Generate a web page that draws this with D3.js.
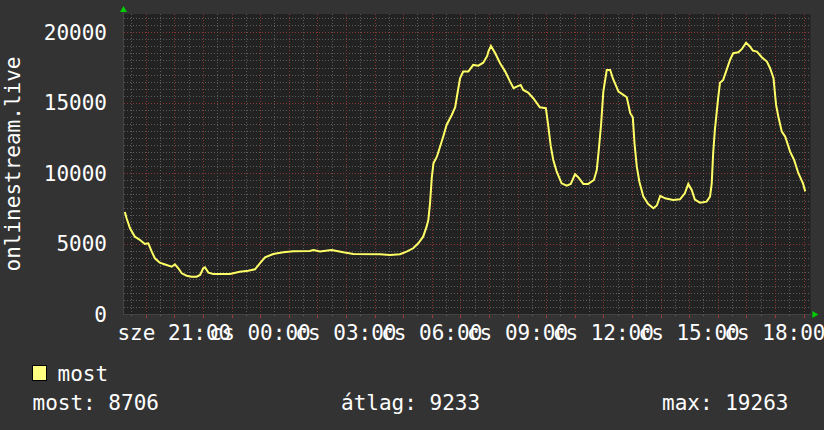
<!DOCTYPE html>
<html>
<head>
<meta charset="utf-8">
<script src="https://cdn.jsdelivr.net/npm/d3@7"></script>
<style>
  body { margin: 0; background: #333333; }
  text { font-family: "DejaVu Sans Mono", monospace; fill: #ffffff; }
</style>
</head>
<body>
<script>
// hours counted from wednesday 00:00 (sze)
const hours = [19.27, 19.33, 19.45, 19.62, 19.80, 19.97, 20.09, 20.21, 20.32, 20.49,
  20.73, 20.91, 21.02, 21.14, 21.26, 21.43, 21.60, 21.78, 21.90, 22.01,
  22.07, 22.19, 22.36, 22.94, 23.29, 23.58, 23.82, 23.99, 24.17, 24.46,
  24.81, 25.16, 25.74, 25.86, 26.09, 26.50, 26.91, 27.26, 28.19, 28.54,
  28.89, 29.12, 29.35, 29.53, 29.70, 29.82, 29.88, 29.94, 30.00, 30.06,
  30.18, 30.29, 30.40, 30.52, 30.70, 30.82, 30.89, 30.99, 31.10, 31.28,
  31.45, 31.63, 31.80, 31.94, 31.98, 32.07, 32.22, 32.39, 32.57, 32.74,
  32.86, 32.97, 33.11, 33.20, 33.37, 33.55, 33.78, 33.99, 34.07, 34.16,
  34.25, 34.37, 34.54, 34.72, 34.86, 35.01, 35.12, 35.30, 35.47, 35.67,
  35.77, 35.83, 35.92, 36.00, 36.12, 36.24, 36.33, 36.53, 36.70, 36.82,
  36.94, 37.03, 37.09, 37.17, 37.26, 37.40, 37.57, 37.75, 37.87, 37.99,
  38.16, 38.44, 38.68, 38.85, 38.97, 39.09, 39.20, 39.38, 39.61, 39.73,
  39.79, 39.84, 39.90, 39.96, 40.02, 40.08, 40.19, 40.31, 40.43, 40.54,
  40.72, 40.84, 40.99, 41.11, 41.23, 41.37, 41.54, 41.72, 41.83, 41.95,
  42.04, 42.12, 42.24, 42.36, 42.53, 42.67, 42.82, 42.98, 43.06];
const viewers = [7240, 6800, 6090, 5490, 5255, 4970, 5020, 4425, 3955, 3645,
  3480, 3360, 3530, 3245, 2890, 2720, 2650, 2650, 2770, 3245,
  3315, 2935, 2840, 2840, 3005, 3075, 3175, 3600, 4025, 4260,
  4380, 4455, 4475, 4545, 4440, 4545, 4380, 4260, 4240, 4190,
  4240, 4425, 4665, 5020, 5490, 6200, 6675, 7860, 9640, 10700,
  11170, 11880, 12590, 13420, 14130, 14680, 15550, 16740, 17210, 17210,
  17685, 17635, 17845, 18325, 18630, 19035, 18515, 17805, 17210, 16500,
  16030, 16145, 16265, 15910, 15715, 15320, 14680, 14610, 13420, 11930,
  10935, 10105, 9280, 9110, 9235, 9920, 9710, 9235, 9235, 9515,
  10225, 11415, 13420, 15790, 17330, 17330, 16740, 15790, 15555, 15390,
  14255, 13970, 12125, 10460, 9395, 8330, 7810, 7505, 7705, 8380,
  8215, 8095, 8145, 8570, 9235, 8805, 8130, 7905, 7975, 8330,
  9280, 11415, 13070, 14255, 15435, 16425, 16620, 17330, 18040, 18515,
  18585, 18800, 19263, 19035, 18700, 18630, 18230, 17920, 17450, 16740,
  14845, 14010, 12945, 12590, 11525, 10935, 9995, 9280, 8706];

const yTicks = [0, 5000, 10000, 15000, 20000];
const weekdays = ['v', 'h', 'k', 'sze', 'cs', 'p', 'szo'];
const legendName = 'most';
const axisTitle = 'onlinestream.live';
const stats = [['most', '8706'], ['átlag', '9233'], ['max', '19263']];

const width = 824, height = 430;
const plotLeft = 124, plotRight = 810.4, plotTop = 14, plotBottom = 314;
const fontSize = '21px';

const day0 = new Date(2024, 0, 3); // a wednesday
const toDate = h => new Date(day0.getTime() + h * 3600e3);
const data = hours.map((h, i) => ({ t: toDate(h), v: viewers[i] }));

const x = d3.scaleTime()
    .domain([toDate(19.24), toDate(43.24)])
    .range([plotLeft, plotRight]);
const y = d3.scaleLinear()
    .domain([0, 21300])
    .range([plotBottom, plotTop]);

const svg = d3.select('body').append('svg')
    .attr('width', width)
    .attr('height', height);

svg.append('rect').attr('width', width).attr('height', height).attr('fill', '#333333');
svg.append('rect')
    .attr('x', plotLeft).attr('y', plotTop)
    .attr('width', plotRight - plotLeft).attr('height', plotBottom - plotTop)
    .attr('fill', '#222222');

const grid = svg.append('g').attr('shape-rendering', 'crispEdges');

// horizontal grid, minor every 500, major every 5000
d3.range(500, 21300, 500).forEach(v => {
    const major = v % 5000 == 0;
    grid.append('line')
        .attr('x1', plotLeft).attr('x2', plotRight)
        .attr('y1', Math.round(y(v)) + 0.5).attr('y2', Math.round(y(v)) + 0.5)
        .attr('stroke', major ? '#8a3535' : '#5c5c5c')
        .attr('stroke-dasharray', '1,2');
});

// vertical grid, minor every 30 min, major every hour
const halfHours = d3.timeMinute.every(30).range(x.domain()[0], x.domain()[1]);
halfHours.forEach(t => {
    const major = t.getMinutes() == 0;
    const px = Math.round(x(t)) + 0.5;
    grid.append('line')
        .attr('x1', px).attr('x2', px)
        .attr('y1', plotTop).attr('y2', plotBottom)
        .attr('stroke', major ? '#8a3535' : '#5c5c5c')
        .attr('stroke-dasharray', '1,2');
    grid.append('line')
        .attr('x1', px).attr('x2', px)
        .attr('y1', plotBottom).attr('y2', plotBottom + (major ? 4 : 2))
        .attr('stroke', major ? '#a03a3a' : '#666666');
});

// axes lines
grid.append('line')
    .attr('x1', plotLeft - 0.5).attr('x2', plotRight + 1)
    .attr('y1', plotBottom + 0.5).attr('y2', plotBottom + 0.5)
    .attr('stroke', '#444444');
grid.append('line')
    .attr('x1', plotLeft - 0.5).attr('x2', plotLeft - 0.5)
    .attr('y1', plotTop - 2).attr('y2', plotBottom + 1)
    .attr('stroke', '#444444');

// arrows
svg.append('path')
    .attr('d', `M${plotLeft - 4},${plotTop - 2} L${plotLeft + 3},${plotTop - 2} L${plotLeft - 0.5},${plotTop - 8} Z`)
    .attr('fill', '#00cc00');
svg.append('path')
    .attr('d', `M${plotRight + 2},${plotBottom - 3} L${plotRight + 2},${plotBottom + 4} L${plotRight + 8},${plotBottom + 0.5} Z`)
    .attr('fill', '#00cc00');

// y labels
svg.append('g').selectAll('text')
    .data(yTicks)
    .enter()
    .append('text')
    .attr('x', 107)
    .attr('y', d => y(d) + 7.5)
    .attr('text-anchor', 'end')
    .style('font-size', fontSize)
    .text(d => d);

// x labels every 3 hours (they overlap like in the original)
const labelTimes = d3.timeHour.every(3).range(x.domain()[0], x.domain()[1]);
svg.append('g').selectAll('text')
    .data(labelTimes)
    .enter()
    .append('text')
    .attr('x', d => x(d))
    .attr('y', 339.5)
    .attr('text-anchor', 'middle')
    .style('font-size', fontSize)
    .text(d => weekdays[d.getDay()] + ' ' + d3.timeFormat('%H:%M')(d));

// axis title
svg.append('text')
    .attr('transform', 'translate(19.5,164) rotate(-90)')
    .attr('text-anchor', 'middle')
    .style('font-size', fontSize)
    .text(axisTitle);

// the line
const line = d3.line()
    .x(d => x(d.t))
    .y(d => y(d.v));

svg.append('path')
    .datum(data)
    .attr('d', line)
    .attr('fill', 'none')
    .attr('stroke', '#ffff66')
    .attr('stroke-width', 2)
    .attr('stroke-linejoin', 'miter');

// legend
svg.append('rect')
    .attr('x', 32.5).attr('y', 365.5)
    .attr('width', 14).attr('height', 15)
    .attr('fill', '#ffff80')
    .attr('stroke', '#000000');
svg.append('text')
    .attr('x', 57.5).attr('y', 380.5)
    .style('font-size', fontSize)
    .text(legendName);

const statX = [32.5, 341, 662];
svg.append('g').selectAll('text')
    .data(stats)
    .enter()
    .append('text')
    .attr('x', (d, i) => statX[i])
    .attr('y', 409.5)
    .style('font-size', fontSize)
    .text(d => d[0] + ': ' + d[1]);
</script>
</body>
</html>
